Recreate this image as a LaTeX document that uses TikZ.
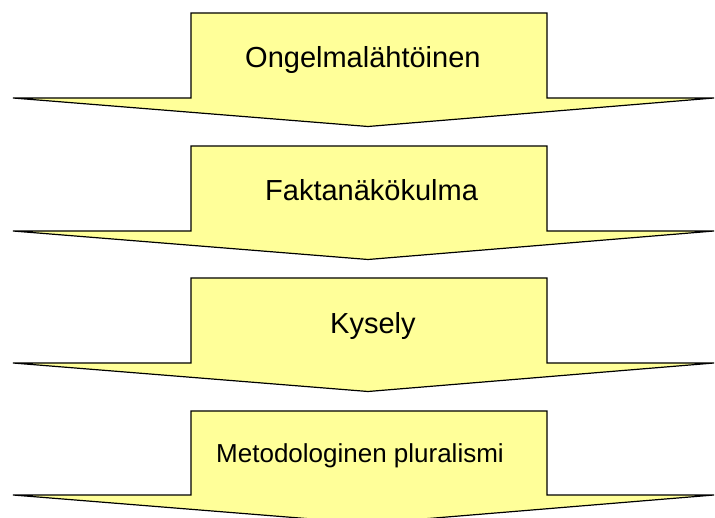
\documentclass[tikz,border=0pt]{standalone}
\usepackage{fontspec}
\setmainfont{Liberation Sans}
\definecolor{arrowfill}{HTML}{FFFF99}
\tikzset{
  bigarrow/.style={draw=black, fill=arrowfill, line width=1.2pt, line join=miter},
  label/.style={inner sep=0pt, anchor=base west, font=\fontsize{29}{34}\selectfont},
  smalllabel/.style={label, font=\fontsize{26}{31}\selectfont}
}
\begin{document}
\begin{tikzpicture}[x=1pt,y=-1pt]
\useasboundingbox (0,0) rectangle (715,518);
\foreach \t/\h in {13/98, 146/231, 278/363, 411/495}{
  \draw[bigarrow] (191,\t) -- (547,\t) -- (547,\h) -- (714,\h) -- (368,\h+28.5) -- (13,\h) -- (191,\h) -- cycle;
}
\node[label] (n1) at (245,68) {Ongelmalähtöinen};
\node[label] (n2) at (265,201) {Faktanäkökulma};
\node[label] (n3) at (330,334) {Kysely};
\node[smalllabel] (n4) at (216,463) {Metodologinen pluralismi};
\end{tikzpicture}
\end{document}
